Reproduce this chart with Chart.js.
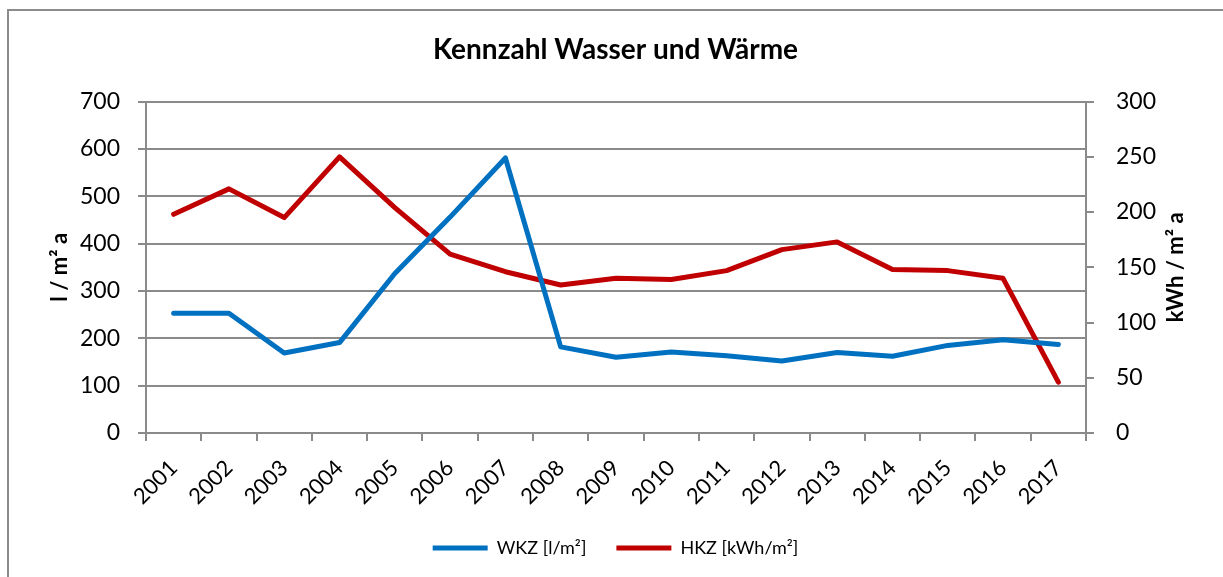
<!DOCTYPE html>
<html>
<head>
<meta charset="utf-8">
<script src="https://cdn.jsdelivr.net/npm/chart.js@4.4.1/dist/chart.umd.min.js"></script>
<style>
html,body{margin:0;padding:0;background:#fff;}
#frame{position:absolute;left:7px;top:9px;width:1240px;height:600px;border-left:2px solid #8c8c8c;border-top:2px solid #8c8c8c;box-sizing:border-box;}
#wrap{position:absolute;left:0;top:0;width:1223px;height:577px;}
</style>
</head>
<body>
<div id="frame"></div>
<div id="wrap"><canvas id="c" width="1223" height="577"></canvas></div>
<script>
const years = ['2001','2002','2003','2004','2005','2006','2007','2008','2009','2010','2011','2012','2013','2014','2015','2016','2017'];
const wkz = [253, 253, 169, 191, 337, 456, 581, 182, 160, 171, 163, 152, 170, 162, 185, 197, 187];
const hkz = [198, 221, 195, 250, 204, 162, 146, 134, 140, 139, 147, 166, 173, 148, 147, 140, 46];
const leftTicks = [0, 100, 200, 300, 400, 500, 600, 700];
const rightTicks = [0, 50, 100, 150, 200, 250, 300];
const rightTitle = 'kWh / m² a';

const FONT = 'Lato, "Open Sans", sans-serif';
const GRID = '#8a8a8a';

const rightTitlePlugin = {
  id: 'rightTitle',
  afterDraw(chart) {
    const s = chart.scales.y1;
    const ctx = chart.ctx;
    ctx.save();
    ctx.font = 'bold 22px ' + FONT;
    ctx.fillStyle = '#000';
    ctx.textAlign = 'center';
    ctx.textBaseline = 'middle';
    ctx.translate(s.right - 47, (s.top + s.bottom) / 2);
    ctx.rotate(-Math.PI / 2);
    ctx.fillText(rightTitle, 0, 0);
    ctx.restore();
  }
};

new Chart(document.getElementById('c'), {
  type: 'line',
  data: {
    labels: years,
    datasets: [
      {label: 'WKZ [l/m²]', data: wkz, yAxisID: 'y', borderColor: '#0070C0', backgroundColor: '#0070C0', borderWidth: 5, pointRadius: 0, tension: 0, borderCapStyle: 'round', borderJoinStyle: 'round'},
      {label: 'HKZ [kWh/m²]', data: hkz, yAxisID: 'y1', borderColor: '#C00000', backgroundColor: '#C00000', borderWidth: 5, pointRadius: 0, tension: 0, borderCapStyle: 'round', borderJoinStyle: 'round'}
    ]
  },
  plugins: [rightTitlePlugin],
  options: {
    responsive: false,
    animation: false,
    layout: {padding: {left: 8, right: 0, top: 0, bottom: 10}},
    plugins: {
      title: {display: true, text: 'Kennzahl Wasser und Wärme', color: '#000', font: {family: FONT, size: 28, weight: 'bold'}, padding: {top: 33, bottom: 35}},
      legend: {position: 'bottom', labels: {color: '#000', font: {family: FONT, size: 18}, usePointStyle: true, pointStyle: 'line', pointStyleWidth: 55, padding: 30}},
      tooltip: {enabled: false}
    },
    scales: {
      x: {
        type: 'category',
        offset: true,
        grid: {offset: true, drawOnChartArea: false, drawTicks: true, tickLength: 8, color: GRID, lineWidth: 2},
        border: {color: GRID, width: 2},
        ticks: {color: '#000', font: {family: FONT, size: 22}, maxRotation: 45, minRotation: 45, autoSkip: false, padding: 14},
        afterFit: s => { s.height = 76; }
      },
      y: {
        position: 'left', min: 0, max: 700,
        afterBuildTicks: s => { s.ticks = leftTicks.map(v => ({value: v})); },
        grid: {color: GRID, lineWidth: 2, tickLength: 8},
        border: {color: GRID, width: 2},
        ticks: {color: '#000', font: {family: FONT, size: 23}, padding: 18},
        title: {display: true, text: 'l / m² a', color: '#000', font: {family: FONT, size: 22, weight: 'bold'}, padding: {top: 39, bottom: 4}},
        afterFit: s => { s.width = 138; }
      },
      y1: {
        position: 'right', min: 0, max: 300,
        afterBuildTicks: s => { s.ticks = rightTicks.map(v => ({value: v})); },
        grid: {drawOnChartArea: false, color: GRID, lineWidth: 2, tickLength: 8},
        border: {color: GRID, width: 2},
        ticks: {color: '#000', font: {family: FONT, size: 23}, padding: 22},
        afterFit: s => { s.width = 137; }
      }
    }
  }
});
</script>
</body>
</html>
